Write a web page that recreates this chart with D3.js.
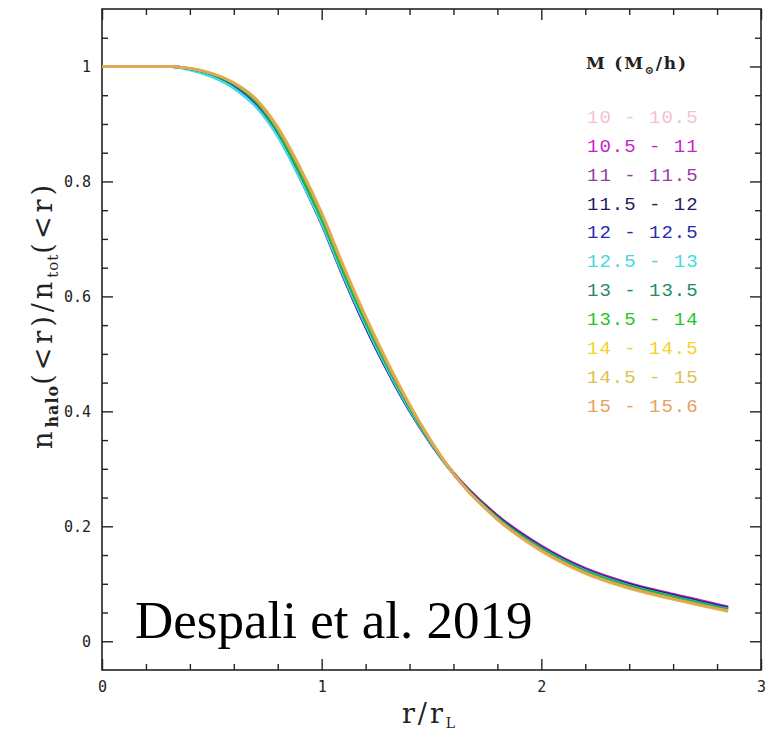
<!DOCTYPE html>
<html>
<head>
<meta charset="utf-8">
<title>n_halo / n_tot</title>
<script src="https://d3js.org/d3.v7.min.js"></script>
<style>
  body { margin: 0; background: #fff; }
  .tick text { font-family: "DejaVu Sans Mono", monospace; font-size: 15px; fill: #222; }
</style>
</head>
<body>
<svg width="770" height="738"></svg>
<script>

// r / r_L sample points
var rVals = [0, 0.3, 0.4, 0.5, 0.6, 0.7, 0.8, 0.9, 1.0, 1.1, 1.2, 1.3, 1.4, 1.5, 1.6, 1.8, 2.0, 2.2, 2.4, 2.6, 2.85];

var massBins = ["10 - 10.5", "10.5 - 11", "11 - 11.5", "11.5 - 12", "12 - 12.5", "12.5 - 13",
                "13 - 13.5", "13.5 - 14", "14 - 14.5", "14.5 - 15", "15 - 15.6"];

var binColors = ["#f2c2d2", "#c81fc8", "#9a3aa8", "#1c1c5e", "#2a2ab4", "#44d8e2",
                 "#1f8a66", "#22c622", "#f2d22e", "#e0c050", "#e3a35e"];

// n_halo(<r)/n_tot(<r), one list per mass bin
var bin0  = [1, 1, 0.996, 0.986, 0.968, 0.937, 0.884, 0.811, 0.729, 0.636, 0.550, 0.473, 0.404, 0.344, 0.293, 0.218, 0.164, 0.125, 0.099, 0.080, 0.058];
var bin1  = [1, 1, 0.996, 0.986, 0.968, 0.936, 0.882, 0.808, 0.726, 0.633, 0.547, 0.471, 0.402, 0.343, 0.293, 0.219, 0.166, 0.127, 0.101, 0.082, 0.060];
var bin2  = [1, 1, 0.996, 0.986, 0.968, 0.936, 0.882, 0.808, 0.726, 0.633, 0.547, 0.471, 0.402, 0.343, 0.292, 0.218, 0.165, 0.126, 0.100, 0.081, 0.059];
var bin3  = [1, 1, 0.996, 0.986, 0.968, 0.937, 0.884, 0.810, 0.729, 0.636, 0.550, 0.473, 0.404, 0.344, 0.292, 0.217, 0.164, 0.125, 0.099, 0.080, 0.058];
var bin4  = [1, 1, 0.996, 0.986, 0.967, 0.935, 0.881, 0.807, 0.726, 0.633, 0.547, 0.470, 0.401, 0.342, 0.291, 0.216, 0.163, 0.124, 0.098, 0.079, 0.057];
var bin5  = [1, 1, 0.994, 0.982, 0.962, 0.930, 0.878, 0.806, 0.727, 0.635, 0.550, 0.473, 0.403, 0.343, 0.291, 0.215, 0.162, 0.123, 0.097, 0.078, 0.056];
var bin6  = [1, 1, 0.996, 0.987, 0.969, 0.939, 0.887, 0.815, 0.735, 0.642, 0.556, 0.478, 0.407, 0.345, 0.292, 0.215, 0.161, 0.122, 0.096, 0.077, 0.055];
var bin7  = [1, 1, 0.996, 0.987, 0.970, 0.940, 0.889, 0.818, 0.737, 0.644, 0.558, 0.479, 0.408, 0.345, 0.291, 0.214, 0.160, 0.121, 0.095, 0.076, 0.054];
var bin8  = [1, 1, 0.997, 0.988, 0.972, 0.944, 0.895, 0.826, 0.746, 0.653, 0.566, 0.486, 0.413, 0.348, 0.292, 0.212, 0.157, 0.118, 0.092, 0.073, 0.052];
var bin9  = [1, 1, 0.997, 0.988, 0.972, 0.944, 0.894, 0.825, 0.745, 0.652, 0.565, 0.485, 0.412, 0.347, 0.291, 0.212, 0.157, 0.118, 0.092, 0.073, 0.052];
var bin10 = [1, 1, 0.997, 0.988, 0.971, 0.943, 0.893, 0.824, 0.744, 0.651, 0.564, 0.484, 0.411, 0.347, 0.291, 0.212, 0.158, 0.119, 0.093, 0.074, 0.053];

var allBins = [bin0, bin1, bin2, bin3, bin4, bin5, bin6, bin7, bin8, bin9, bin10];

var xMajor = [0, 1, 2, 3];
var xMinor = [0.2, 0.4, 0.6, 0.8, 1.2, 1.4, 1.6, 1.8, 2.2, 2.4, 2.6, 2.8];
var yMajor = [0, 0.2, 0.4, 0.6, 0.8, 1];
var yMinor = [0.05, 0.1, 0.15, 0.25, 0.3, 0.35, 0.45, 0.5, 0.55, 0.65, 0.7, 0.75, 0.85, 0.9, 0.95, 1.05];

var svg = d3.select("svg");

var pLeft = 102, pRight = 761, pTop = 9, pBottom = 670;

var x = d3.scaleLinear().domain([0, 3]).range([pLeft, pRight]);
var y = d3.scaleLinear().domain([-0.05, 1.1]).range([pBottom, pTop]);

var fmt = function(d) { return Number.isInteger(d) ? String(d) : d.toFixed(1); };

// axes, ticks pointing inward on all four sides
function drawAxis(axisFn, scale, major, minor, tx, ty, labels) {
  var g = svg.append("g").attr("transform", "translate(" + tx + "," + ty + ")");
  g.call(axisFn(scale).tickValues(major).tickSize(-11).tickPadding(11)
        .tickFormat(labels ? fmt : ""));
  g.select(".domain").remove();
  var g2 = svg.append("g").attr("transform", "translate(" + tx + "," + ty + ")");
  g2.call(axisFn(scale).tickValues(minor).tickSize(-6).tickFormat(""));
  g2.select(".domain").remove();
  svg.selectAll(".tick line").attr("stroke", "#222").attr("stroke-width", 1.4);
}
drawAxis(d3.axisBottom, x, xMajor, xMinor, 0, pBottom, true);
drawAxis(d3.axisTop, x, xMajor, xMinor, 0, pTop, false);
drawAxis(d3.axisLeft, y, yMajor, yMinor, pLeft, 0, true);
drawAxis(d3.axisRight, y, yMajor, yMinor, pRight, 0, false);

svg.append("rect")
    .attr("x", pLeft).attr("y", pTop)
    .attr("width", pRight - pLeft).attr("height", pBottom - pTop)
    .attr("fill", "none").attr("stroke", "#222").attr("stroke-width", 1.6);

// curves
var line = d3.line()
    .x(function(d, i) { return x(rVals[i]); })
    .y(function(d) { return y(d); })
    .curve(d3.curveMonotoneX);

svg.append("g")
  .selectAll("path")
  .data(allBins)
  .enter().append("path")
    .attr("d", line)
    .attr("fill", "none")
    .attr("stroke", function(d, i) { return binColors[i]; })
    .attr("stroke-width", 2.6)
    .attr("stroke-linejoin", "round");

// legend
var leg = svg.append("g").attr("font-family", "Liberation Mono, monospace");

var title = leg.append("text")
    .attr("x", 586).attr("y", 69)
    .attr("font-family", "DejaVu Serif, serif")
    .attr("font-size", 17).attr("font-weight", "bold").attr("fill", "#222")
    .attr("letter-spacing", 1.8);
title.append("tspan").text("M (M");
title.append("tspan").attr("font-size", 11).attr("dy", 5).text("\u2299");
title.append("tspan").attr("dy", -5).text("/h)");

leg.selectAll("text.bin")
  .data(massBins)
  .enter().append("text")
    .attr("class", "bin")
    .attr("x", 587)
    .attr("y", function(d, i) { return 123 + i * 28.85; })
    .attr("font-size", 19)
    .attr("letter-spacing", 1)
    .attr("fill", function(d, i) { return binColors[i]; })
    .text(function(d) { return d; });

// axis titles
var yl = svg.append("text")
    .attr("transform", "translate(52,315) rotate(-90)")
    .attr("text-anchor", "middle")
    .attr("font-family", "DejaVu Serif, serif")
    .attr("font-size", 27)
    .attr("letter-spacing", 4)
    .attr("fill", "#222");
yl.append("tspan").text("n");
yl.append("tspan").attr("font-size", 16).attr("font-weight", "bold").attr("dy", 6).attr("letter-spacing", 1).text("halo");
yl.append("tspan").attr("dy", -6).text("(<r)/n");
yl.append("tspan").attr("font-size", 15).attr("dy", 6).attr("letter-spacing", 1).text("tot");
yl.append("tspan").attr("dy", -6).text("(<r)");

var xl = svg.append("text")
    .attr("x", 430).attr("y", 723)
    .attr("text-anchor", "middle")
    .attr("font-family", "DejaVu Serif, serif")
    .attr("font-size", 27)
    .attr("letter-spacing", 3)
    .attr("fill", "#222");
xl.append("tspan").text("r/r");
xl.append("tspan").attr("font-size", 14).attr("dy", 5).text("L");

svg.append("text")
    .attr("x", 135).attr("y", 638)
    .attr("font-family", "Liberation Serif, serif")
    .attr("font-size", 53)
    .attr("fill", "#000")
    .text("Despali et al. 2019");

</script>
</body>
</html>
